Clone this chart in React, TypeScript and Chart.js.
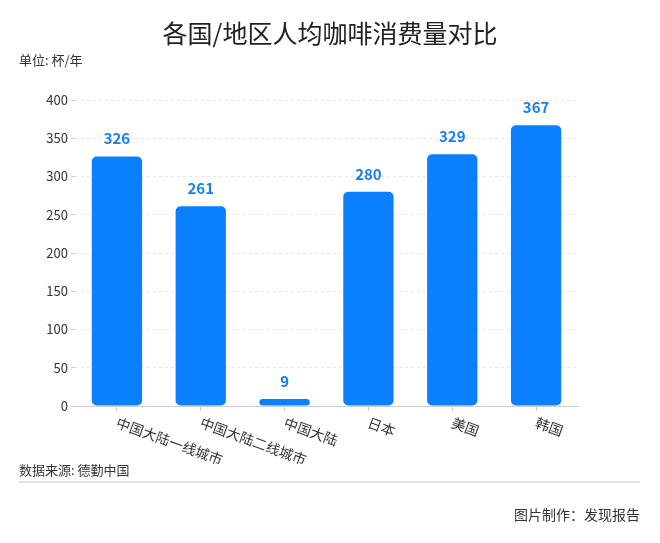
import React, { useEffect, useRef } from "react";
import { Chart, registerables } from "chart.js";

Chart.register(...registerables);

const categories = ["中国大陆一线城市", "中国大陆二线城市", "中国大陆", "日本", "美国", "韩国"];
const cupsPerYear = [326, 261, 9, 280, 329, 367];
const yMax = 400;
const yStep = 50;

const FONT = '"Noto Sans CJK SC", "Noto Sans", sans-serif';
const BAR_COLOR = "#0A80FF";
const LABEL_COLOR = "#1A7FE8";

const valueLabelPlugin = {
  id: "valueLabels",
  afterDatasetsDraw(chart: any) {
    const ctx = chart.ctx;
    const meta = chart.getDatasetMeta(0);
    ctx.save();
    ctx.font = `bold 15px ${FONT}`;
    ctx.fillStyle = LABEL_COLOR;
    ctx.textAlign = "center";
    ctx.textBaseline = "middle";
    meta.data.forEach((bar: any, i: number) => {
      ctx.fillText(String(chart.data.datasets[0].data[i]), bar.x, bar.y - 18);
    });
    ctx.restore();
  },
};

const rotatedXLabelPlugin = {
  id: "rotatedXLabels",
  afterDraw(chart: any) {
    const ctx = chart.ctx;
    const xs = chart.scales.x;
    const base = chart.chartArea.bottom;
    ctx.save();
    ctx.font = `14px ${FONT}`;
    ctx.fillStyle = "#333";
    ctx.textAlign = "left";
    ctx.textBaseline = "middle";
    (chart.data.labels as string[]).forEach((lab, i) => {
      const x = xs.getPixelForValue(i);
      ctx.save();
      ctx.translate(x, base + 16);
      ctx.rotate((20 * Math.PI) / 180);
      ctx.fillText(lab, 0, 0);
      ctx.restore();
    });
    ctx.restore();
  },
};

export default function App() {
  const ref = useRef<HTMLCanvasElement | null>(null);

  useEffect(() => {
    if (!ref.current) return;
    Chart.defaults.font.family = FONT;
    const chart = new Chart(ref.current, {
      type: "bar",
      data: {
        labels: categories,
        datasets: [
          {
            data: cupsPerYear,
            backgroundColor: BAR_COLOR,
            borderRadius: 5,
            borderSkipped: false,
            categoryPercentage: 1,
            barPercentage: 0.6,
          },
        ],
      },
      options: {
        animation: false,
        responsive: false,
        events: [],
        layout: { padding: { top: 100, left: 0, right: 82, bottom: 117 } },
        plugins: {
          legend: { display: false },
          tooltip: { enabled: false },
          title: { display: false },
        },
        scales: {
          x: {
            afterFit: (s: any) => {
              s.height = 20;
            },
            ticks: { display: false },
            grid: {
              display: true,
              offset: false,
              drawOnChartArea: false,
              drawTicks: true,
              tickLength: 5,
              tickColor: "#cccccc",
            },
            border: { display: true, color: "#cccccc", width: 1 },
          },
          y: {
            min: 0,
            max: yMax,
            afterFit: (s: any) => {
              s.width = 75;
            },
            ticks: {
              stepSize: yStep,
              color: "#333",
              font: { size: 13, family: FONT },
              padding: 3,
            },
            grid: {
              color: "#e6e6e6",
              drawTicks: true,
              tickLength: 4,
              tickColor: "#cccccc",
            },
            border: { display: false, dash: [3, 3] },
          },
        },
      },
      plugins: [valueLabelPlugin, rotatedXLabelPlugin],
    });
    return () => chart.destroy();
  }, []);

  const base: React.CSSProperties = {
    position: "absolute",
    fontFamily: FONT,
    color: "#222",
    whiteSpace: "nowrap",
  };

  return (
    <div style={{ position: "absolute", left: 0, top: 0, width: 660, height: 543, background: "#fff", overflow: "hidden" }}>
      <canvas ref={ref} width={660} height={543} style={{ position: "absolute", left: 0, top: 0, width: 660, height: 543 }} />
      <div style={{ ...base, top: 16, left: 0, width: 660, textAlign: "center", fontSize: 25, lineHeight: "32px" }}>
        各国/地区人均咖啡消费量对比
      </div>
      <div style={{ ...base, top: 51, left: 19, fontSize: 13, lineHeight: "18px", color: "#333" }}>单位: 杯/年</div>
      <div style={{ ...base, top: 461, left: 19, fontSize: 13, lineHeight: "18px", color: "#333" }}>数据来源: 德勤中国</div>
      <div style={{ position: "absolute", top: 481, left: 19, width: 621, height: 2, background: "#e3e3e3" }} />
      <div style={{ ...base, top: 505, right: 20, fontSize: 14, lineHeight: "18px", color: "#333" }}>图片制作：发现报告</div>
    </div>
  );
}
